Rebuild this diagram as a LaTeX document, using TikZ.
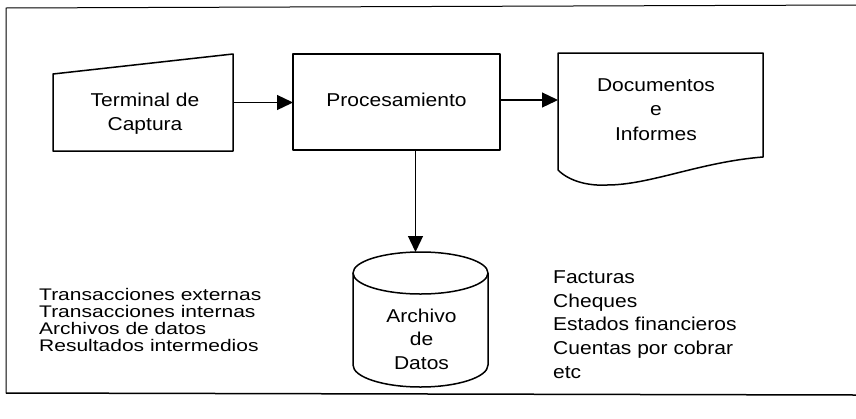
\documentclass[tikz,border=0pt]{standalone}
\usepackage{fontspec}
\setmainfont{Liberation Sans}[FakeStretch=1.13]
\newfontfamily\listfont{Liberation Sans}[FakeStretch=1.25]
\usetikzlibrary{arrows.meta}
\begin{document}
\begin{tikzpicture}[x=1pt,y=-1pt,
  shapeline/.style={line width=1.5pt, line join=round},
  arr/.style={line width=1.3pt, -{Triangle[length=16pt,width=15pt]}},
  txt/.style={inner sep=0pt, anchor=base, font=\fontsize{18.6}{22}\selectfont},
  ltxt/.style={txt, anchor=base west},
  lltxt/.style={inner sep=0pt, anchor=base west, font=\listfont\fontsize{16.8}{20}\selectfont},
  holder/.style={inner sep=0pt, outer sep=0pt}]
\useasboundingbox (0,0) rectangle (856,418);
% frame
\draw[line width=1pt] (6,393) -- (6,8) -- (856,5);
\draw[line width=1.5pt] (6,393) -- (856,395);
% terminal
\node[holder, minimum width=180pt, minimum height=97pt] (term) at (143,102.5) {};
\draw[shapeline] (term.south west) -- ([yshift=-20pt]term.north west) -- (term.north east) -- (term.south east) -- cycle;
\node[txt] (t1) at (145,106) {Terminal de};
\node[txt] (t2) at (145,130) {Captura};
% process
\node[draw, shapeline, holder, minimum width=207pt, minimum height=96pt] (proc) at (396.5,102) {};
\node[txt] (p1) at (396.5,106) {Procesamiento};
% document
\node[holder, minimum width=205pt, minimum height=104pt] (doc) at (660.5,105) {};
\draw[shapeline] (558,170) -- (doc.north west) -- (doc.north east) -- (doc.south east)
  .. controls (700,162) and (650,185) .. (607,185)
  .. controls (590,186) and (570,182) .. (558,170);
\node[txt] (d1) at (656,91) {Documentos};
\node[txt] (d2) at (656,115) {e};
\node[txt] (d3) at (656,140) {Informes};
% cylinder
\node[holder, minimum width=135pt, minimum height=135pt] (cyl) at (420.5,319.5) {};
\draw[shapeline] ([yshift=-21pt]cyl.north) ellipse [x radius=67.5pt, y radius=21pt];
\draw[shapeline] ([yshift=-21pt]cyl.north west) -- ([yshift=22pt]cyl.south west)
  arc[start angle=180, end angle=360, x radius=67.5pt, y radius=22pt]
  -- ([yshift=-21pt]cyl.north east);
\node[txt] (c1) at (421.5,322) {Archivo};
\node[txt] (c2) at (421.5,345) {de};
\node[txt] (c3) at (421.5,369) {Datos};
% connectors
\draw[arr] (term.east) -- (term.east -| proc.west);
\draw[arr] ([yshift=2pt]proc.east) -- ([yshift=2pt]proc.east -| doc.west);
\draw[arr] ([xshift=-5pt]proc.south -| cyl.north) -- ([xshift=-5pt]cyl.north);
% left list
\node[lltxt] (l1) at (39,300) {Transacciones externas};
\node[lltxt] (l2) at (39,317) {Transacciones internas};
\node[lltxt] (l3) at (39,334) {Archivos de datos};
\node[lltxt] (l4) at (39,351) {Resultados intermedios};
% right list
\node[ltxt] (r1) at (553,283) {Facturas};
\node[ltxt] (r2) at (553,307) {Cheques};
\node[ltxt] (r3) at (553,330) {Estados financieros};
\node[ltxt] (r4) at (553,354) {Cuentas por cobrar};
\node[ltxt] (r5) at (553,378) {etc};
\end{tikzpicture}
\end{document}
